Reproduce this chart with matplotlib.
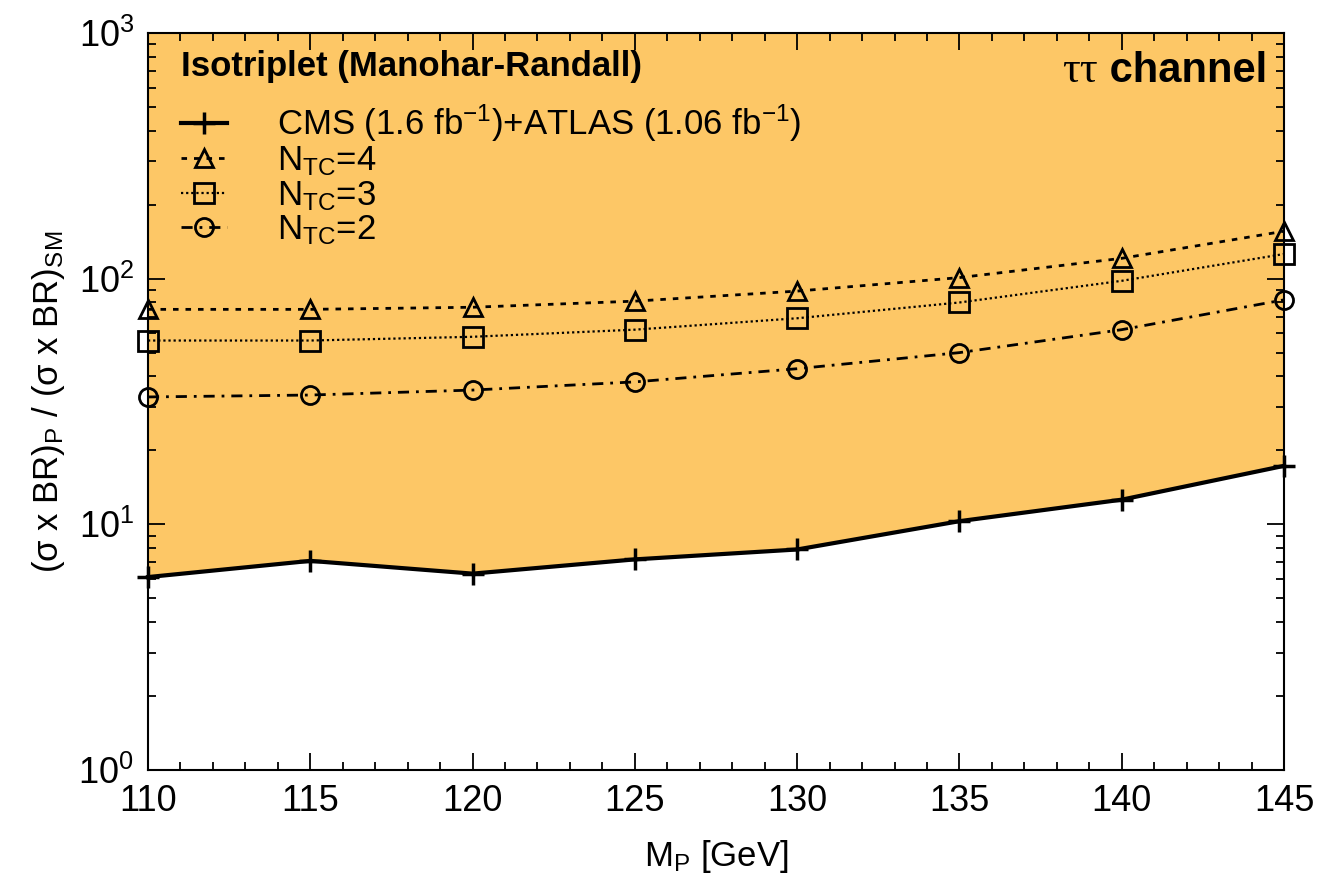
import numpy as np
import matplotlib.pyplot as plt
from matplotlib.ticker import MultipleLocator, LogLocator

plt.rcParams['font.family'] = ['Liberation Sans', 'DejaVu Sans']
plt.rcParams['mathtext.fontset'] = 'custom'
plt.rcParams['mathtext.rm'] = 'Liberation Sans'
plt.rcParams['mathtext.it'] = 'Liberation Sans:italic'
plt.rcParams['mathtext.bf'] = 'Liberation Sans:bold'

# === data ===
mass = [110, 115, 120, 125, 130, 135, 140, 145]
cms_atlas = [6.1, 7.1, 6.3, 7.2, 7.9, 10.3, 12.6, 17.3]
ntc4 = [75, 75, 76.5, 81, 89, 101, 121, 156]
ntc3 = [56, 56, 58, 62, 69, 80, 98, 126]
ntc2 = [33, 33.6, 35.2, 38, 43, 50, 62, 82]

fig = plt.figure(figsize=(13.42, 8.84), dpi=100)
ax = fig.add_axes([148/1342, 1-770/884, (1284-148)/1342, (770-33)/884])

# excluded region
ax.fill_between(mass, cms_atlas, 1000, color='#FDC766', lw=0, zorder=1)

ax.plot(mass, cms_atlas, color='black', lw=3, marker='+', ms=16, mew=2.5,
        label='CMS (1.6 fb$^{-1}$)+ATLAS (1.06 fb$^{-1}$)', zorder=3, clip_on=False)
ax.plot(mass, ntc4, color='black', lw=2, ls=(0, (2, 2.5)), marker='^', ms=13, mew=2,
        mfc='none', label='N$_{\\mathregular{TC}}$=4', zorder=3, clip_on=False)
ax.plot(mass, ntc3, color='black', lw=1.6, ls=(0, (1, 1.3)), marker='s', ms=15, mew=2,
        mfc='none', label='N$_{\\mathregular{TC}}$=3', zorder=3, clip_on=False)
ax.plot(mass, ntc2, color='black', lw=2, ls=(0, (4, 2.5, 1, 2.5)), marker='o', ms=13, mew=2,
        mfc='none', label='N$_{\\mathregular{TC}}$=2', zorder=3, clip_on=False)

ax.set_yscale('log')
ax.set_xlim(110, 145)
ax.set_ylim(1, 1000)
ax.xaxis.set_major_locator(MultipleLocator(5))
ax.xaxis.set_minor_locator(MultipleLocator(1))
ax.yaxis.set_major_locator(LogLocator(base=10))
ax.yaxis.set_minor_locator(LogLocator(base=10, subs=np.arange(2, 10)))
ax.tick_params(which='both', direction='in', top=True, right=True, labelsize=26, width=1.3)
ax.tick_params(which='major', length=12, pad=10)
ax.tick_params(which='minor', length=6)
for s in ax.spines.values():
    s.set_linewidth(1.5)
    s.set_zorder(4)

ax.set_xlabel('M$_\\mathregular{P}$ [GeV]', fontsize=25, labelpad=14)
ax.set_ylabel('(σ x BR)$_\\mathregular{P}$ / (σ x BR)$_\\mathregular{SM}$', fontsize=25, labelpad=8)

leg = ax.legend(loc='upper left', bbox_to_anchor=(0.008, 1.01), frameon=False, fontsize=25,
                title='Isotriplet (Manohar-Randall)', handlelength=1.3, handletextpad=1.45,
                labelspacing=0.02, borderaxespad=0.3)
leg.get_title().set_fontweight('bold')
leg.get_title().set_fontsize(25)
leg._legend_box.align = 'left'
leg._legend_box.sep = 14
leg._legend_handle_box.pad = 0
for c in leg._legend_handle_box.get_children():
    pass

# channel label
t = ax.text(0.985, 0.975, ' channel', transform=ax.transAxes, ha='right', va='top',
            fontsize=30, fontweight='bold', zorder=5)
fig.canvas.draw()
bb = t.get_window_extent()
x0 = ax.transAxes.inverted().transform((bb.x0, bb.y0))[0]
ax.text(x0, 0.975, 'ττ', transform=ax.transAxes, ha='right', va='top',
        fontsize=32, family='Liberation Serif', zorder=5)

fig.savefig('out.png', dpi=100)
